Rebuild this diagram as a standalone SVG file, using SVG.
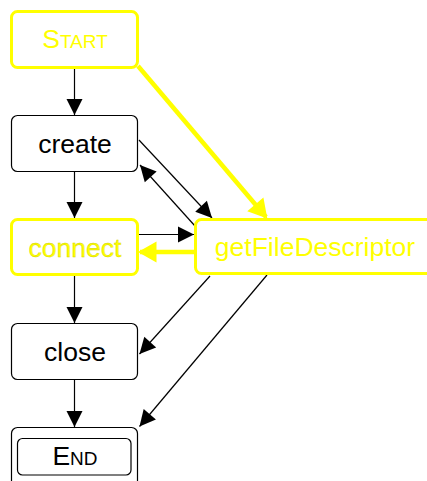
<svg xmlns="http://www.w3.org/2000/svg" width="427" height="481" viewBox="0 0 427 481">
  <style>
    .box { fill: #ffffff; stroke: #000000; stroke-width: 1.2; }
    .hl { fill: #ffffff; stroke: #ffff00; stroke-width: 3; }
    .label { font-family: "Liberation Sans", Arial, sans-serif; font-size: 26.5px; text-anchor: middle; fill: #000000; }
    .label.yl { fill: #ffff00; }
    .label.sc { font-variant: small-caps; }
    .edge { fill: none; stroke: #000000; stroke-width: 1.2; }
    .edge.yl { stroke: #ffff00; stroke-width: 4.5; }
  </style>
  <defs>
    <marker id="arrow" markerUnits="userSpaceOnUse" markerWidth="20" markerHeight="20" refX="16" refY="8" orient="auto" overflow="visible">
      <path d="M0,0 L16,8 L0,16 Z" fill="#000000"/>
    </marker>
    <marker id="arrow-yl" markerUnits="userSpaceOnUse" markerWidth="26" markerHeight="26" refX="17" refY="10" orient="auto" overflow="visible">
      <path d="M2,2 L16,10 L2,18 Z" fill="#ffff00" stroke="#ffff00" stroke-width="3"/>
    </marker>
  </defs>

  <!-- connectors -->
  <g id="edges">
    <line class="edge" x1="74.5" y1="69" x2="74.5" y2="115" marker-end="url(#arrow)"/>
    <line class="edge" x1="74.5" y1="172" x2="74.5" y2="218" marker-end="url(#arrow)"/>
    <line class="edge" x1="74.5" y1="276" x2="74.5" y2="323" marker-end="url(#arrow)"/>
    <line class="edge" x1="74.5" y1="380" x2="74.5" y2="427" marker-end="url(#arrow)"/>
    <line class="edge" x1="139" y1="140" x2="212" y2="218" marker-end="url(#arrow)"/>
    <line class="edge" x1="195" y1="226" x2="140" y2="165" marker-end="url(#arrow)"/>
    <line class="edge" x1="139" y1="234.5" x2="194" y2="234.5" marker-end="url(#arrow)"/>
    <line class="edge" x1="210" y1="276" x2="139.5" y2="354" marker-end="url(#arrow)"/>
    <line class="edge" x1="267" y1="275" x2="139.5" y2="426.5" marker-end="url(#arrow)"/>
    <line class="edge yl" x1="138" y1="66" x2="266" y2="217" marker-end="url(#arrow-yl)"/>
    <line class="edge yl" x1="194" y1="252" x2="140" y2="252" marker-end="url(#arrow-yl)"/>
  </g>

  <g id="start">
    <rect class="hl" x="11.5" y="11.5" width="126" height="56" rx="6"/>
    <text class="label yl sc" x="75" y="48">Start</text>
  </g>

  <g id="create">
    <rect class="box" x="11.5" y="115.5" width="126" height="56" rx="6"/>
    <text class="label" x="75" y="153">create</text>
  </g>

  <g id="connect">
    <rect class="hl" x="11.5" y="219.5" width="126" height="55" rx="6"/>
    <text class="label yl" x="75" y="256.5" stroke="#d0d000" stroke-width="0.35">connect</text>
  </g>

  <g id="getFileDescriptor">
    <rect class="hl" x="195.5" y="219.5" width="240" height="54" rx="6"/>
    <text class="label yl" x="315" y="255.5">getFileDescriptor</text>
  </g>

  <g id="close">
    <rect class="box" x="11.5" y="323.5" width="126" height="56" rx="6"/>
    <text class="label" x="75" y="361">close</text>
  </g>

  <g id="end">
    <rect class="box" x="11.5" y="427.5" width="126" height="60" rx="6"/>
    <rect class="box" x="17.5" y="438.5" width="113.5" height="36.5" rx="5"/>
    <text class="label sc" x="75" y="465">End</text>
  </g>
</svg>
